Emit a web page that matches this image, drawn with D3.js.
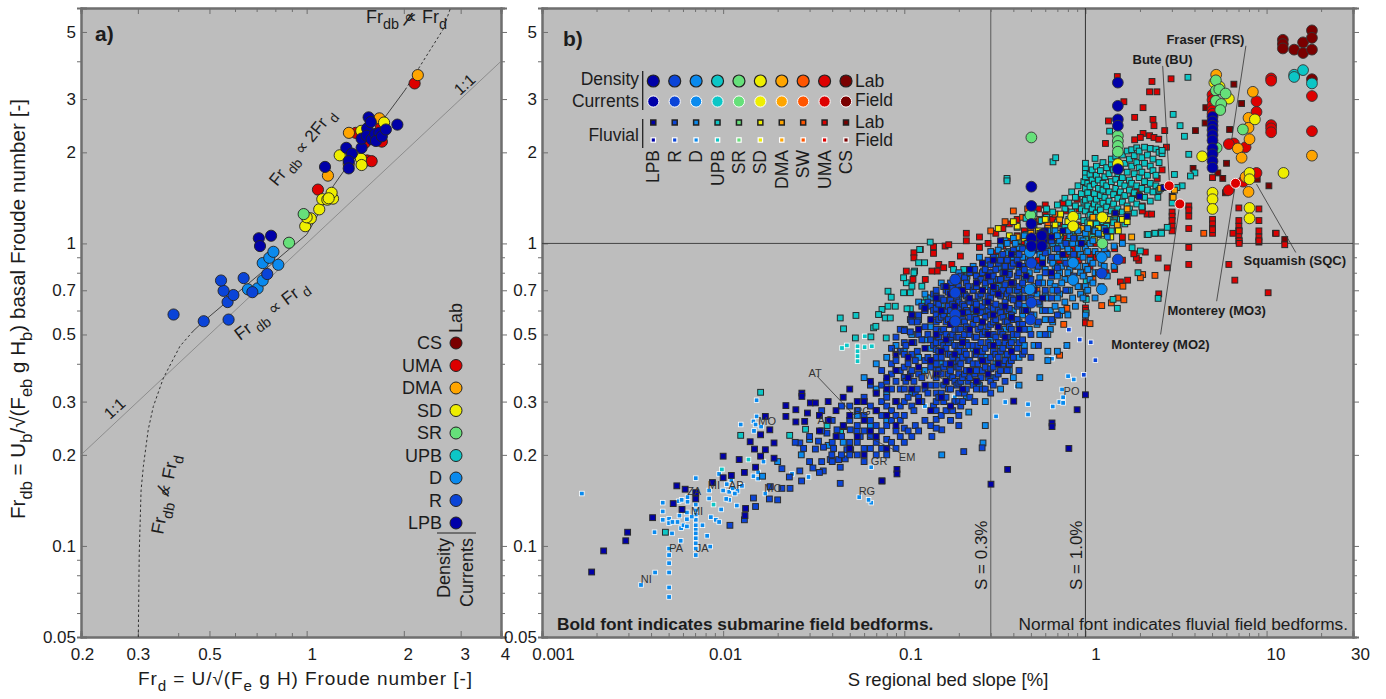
<!DOCTYPE html>
<html>
<head>
<meta charset="utf-8">
<script src="https://cdn.jsdelivr.net/npm/d3@7"></script>
<style>
  body { margin: 0; background: #fff; }
  text { font-family: "Liberation Sans", Arial, sans-serif; fill: #1c1c1c; }
</style>
</head>
<body>
<svg id="chart" width="1386" height="699"></svg>
<script>
const classNames = ["LPB", "R", "D", "UPB", "SR", "SD", "DMA", "SW", "UMA", "CS"];
const classColors = ["#0000a8", "#0a44d8", "#0a8aee", "#0cc6c6", "#66e07a", "#eeee00", "#ffa500", "#ff5500", "#dd0000", "#7a0000"];
const legendANames = ["CS", "UMA", "DMA", "SD", "SR", "UPB", "D", "R", "LPB"];

// tick values
const xTicksA = [0.2, 0.3, 0.5, 1, 2, 3, 4];
const xMinorA = [0.4, 0.6, 0.7, 0.8, 0.9];
const yTicks = [0.05, 0.1, 0.2, 0.3, 0.5, 0.7, 1, 2, 3, 5];
const yMinor = [0.06, 0.07, 0.08, 0.09, 0.4, 0.6, 0.8, 0.9, 4];
const xTicksB = [0.001, 0.01, 0.1, 1, 10, 30];
const xMinorB = [0.002, 0.003, 0.004, 0.005, 0.006, 0.007, 0.008, 0.009, 0.02, 0.03, 0.04, 0.05, 0.06, 0.07, 0.08, 0.09, 0.2, 0.3, 0.4, 0.5, 0.6, 0.7, 0.8, 0.9, 2, 3, 4, 5, 6, 7, 8, 9, 20];

// panel a, [Frd, Frdb]
const aLPB = [[.711,1.04],[.776,1.06],[.717,.98],[1.14,1.79],[1.327,2.07],[1.38,1.98],[1.35,1.87],[1.35,1.77],[1.48,2.07],[1.48,2.22],[1.54,2.4],[1.556,2.61],[1.58,2.52],[1.535,2.27],[1.59,2.21],[1.63,2.3],[1.68,2.32],[1.64,2.18],[1.71,2.26],[1.76,2.38],[1.91,2.47]];
const aR = [[.387,.582],[.48,.553],[.573,.56],[.569,.64],[.593,.675],[.553,.697],[.543,.754],[.638,.768],[.679,.69],[.755,.792]];
const aD = [[.658,.705],[.705,.71],[.731,.754],[.731,.861],[.766,.896],[.789,.938],[.817,.85]];
const aSR = [[.882,1.005],[.979,1.25]];
const aSD = [[.99,1.14],[1.03,1.21],[1.0,1.22],[1.094,1.296],[1.118,1.4],[1.159,1.395],[1.207,1.406],[1.195,1.47],[1.17,1.41],[1.266,1.955],[1.473,1.906],[1.48,1.816],[1.476,2.355],[1.737,2.51]];
const aDMA = [[1.164,1.675],[1.352,2.32],[1.68,2.59],[2.21,3.6],[1.35,1.83]];
const aUMA = [[1.084,1.506],[2.16,3.38],[1.54,1.88],[1.59,1.87],[1.42,2.32],[1.71,2.17],[1.515,2.15],[1.7,2.42]];

// reference lines in panel a
const oneToOne = [[0.2, 0.2], [4, 4]];
const curveLow = [[.301,.05],[.303,.0946],[.307,.153],[.312,.183],[.323,.242],[.335,.289],[.36,.359],[.405,.457],[.445,.513]];
const curveMid = [[.445,.513],[.48,.553],[1.0,1.07],[1.05,1.17],[1.21,1.55],[1.36,1.85],[1.61,2.32],[2.02,3.22]];
const curveTop = [[2.02,3.22],[2.65,5.11],[2.79,6.0]];

// panel b density currents, [S, Fr...] per row
const bCS = [[12.3,4.71,4.56,4.41],[14.2,4.37],[15.9,4.62,4.26],[17.8,5.06,4.78,4.37,3.49]];
const bUPB = [[14.2,3.61,3.55],[15.9,3.74],[17.8,3.38]];
const bUMA = [[10.6,3.51,3.45,2.46,2.4,2.33],[17.8,3.07,2.35],[8.8,2.95,2.72,1.71],[6.6,2.14],[7.66,2.08],[6.19,2.13],[7.43,1.6],[6.17,1.5],[5.03,3.1,2.98,2.85,2.75,2.68]];
const bUMAField = [[6.74,1.58],[3.32,1.35],[2.9,1.55]];
const bDMA = [[8.4,3.17],[17.8,1.95],[7.95,2.6,2.41,1.48],[8.05,2.21],[6.94,2.06],[7.28,1.92],[7.66,1.66],[5.27,3.61]];
const bSD = [[4.41,1.94],[12.4,1.71],[8.62,2.57],[8.05,1.71,1.63,1.31,1.21],[5.03,1.47,1.4,1.3],[6.19,3.01],[1.24,1.22],[.855,1.225,1.14],[1.51,1.83],[5.5,3.3],[5.15,3.4]];
const bSR = [[.503,2.24],[5.25,3.46,3.2,2.96],[5.48,3.23],[5.94,3.13],[5.62,2.89],[5.55,2.76],[7.4,2.38],[1.51,2.27,2.18,2.1,2.01],[.497,1.24],[1.24,1.0],[5.3,2.07]];
const bLPB = [[.503,1.54,1.33,1.16,1.04],[.576,1.07,1.02],[1.51,3.4,2.85,2.57,2.45,1.76],[5.03,2.62,2.53,2.45,2.37,2.28,2.19,2.06,1.97,1.87,1.78],[.574,1.06,.98],[.503,.98]];
const bR = [[.191,.76,.687,.582,.553],[.503,.861,.637],[.497,.56],[1.51,.885],[1.23,.796]];
const bD = [[.493,.936,.705],[.855,.863,.757],[1.23,.9,.705]];

// panel b fluvial field, [S, Fr...] per row
const fieldD = [[.00166,.149],[.00352,.0743],[.00421,.0817],[.00503,.0678,.0729,.0817,.0877,.0933,.098,.123,.119],[.00583,.104],[.00706,.137,.131,.127,.122,.117,.113,.11,.106,.102,.098,.0933,.1675],[.00848,.0995],[.00816,.108],[.00769,.117],[.00418,.111],[.00522,.11],[.00464,.139,.13,.122],[.00525,.12],[.0056,.12],[.00586,.1145],[.00604,.117],[.00631,.116,.1225,.129],[.00671,.125],[.00574,.126],[.00568,.1405],[.0059,.142],[.00636,.14,.145],[.00837,.1525,.1435],[.00855,.1245],[.00912,.122],[.0095,.12,.173],[.00975,.132],[.01,.1525],[.01047,.16],[.0108,.151,.142],[.0104,.143],[.0113,.155],[.012,.152],[.0116,.149],[.0127,.158],[.0119,.136],[.0111,.165],[.0147,.17,.258],[.0156,.175,.167],[.0167,.19],[.024,.173],[.0296,.169],[.0171,.149],[.0151,.252],[.0162,.248],[.0148,.24],[.0125,.252],[.0153,.268,.303],[.0657,.182,.139],[.0564,.145],[.0635,.142],[.419,.337],[.361,.299],[.321,.268],[.482,.294,.272],[.66,.289],[.718,.299],[.753,.297,.31],[.743,.329],[.802,.364],[.862,.355],[.654,.416],[.21,.345],[.24,.38],[.13,.29],[.16,.34],[.19,.31],[.26,.47]];
const fieldUPB = [[.0453,.451],[.0482,.46],[.0552,.457,.44,.424,.408],[.0604,.454],[.0662,.457],[.0606,.493],[.0161,.322],[.0138,.193],[.00984,.179],[.00885,.137]];
const fieldR = [[.93,.481],[1.07,.471],[1.135,.411],[.81,.519],[.776,.455],[.98,.368]];

// panel b fluvial lab
const labCS = [[6.6,3.36],[7.28,2.9],[4.62,2.81],[4.58,2.5],[4.05,2.36],[6.25,2.38],[6.01,1.84],[3.93,1.77],[5.38,1.71],[5.73,1.64],[5.93,1.47],[10.3,1.55],[8.88,1.63],[9.07,1.01],[12.6,1.03]];
const labUMA = [[1.5,3.56],[2.33,3.43],[2.97,3.5],[2.26,3.17,2.27],[2.48,3.17],[1.63,2.94],[2.08,2.81,2.31],[1.34,2.54],[1.87,2.61,2.2],[2.36,2.57],[2.74,2.36],[1.29,2.14],[2.01,2.24],[2.39,2.45,2.24],[2.54,2.21],[2.8,2.08],[2.49,1.64],[2.65,1.75],[3.01,1.43,1.27,1.23,1.19,1.14,1.1],[3.72,1.33,1.29,1.23,1.12,.97,.852],[5.03,1.65,1.2,1.16,1.12,1.08,1.11],[7.03,1.31,1.19,1.14,1.1,1.06,1.02],[9.07,1.3,1.19,1.1,1.05,1.02],[11.2,1.08],[6.52,1.08],[2.19,1.25],[2.32,1.25],[2.06,1.33,1.28],[1.93,1.49],[1.83,1.45],[7.06,1.1,1.02,1.0],[12.6,.99],[11.3,1.08],[6.19,.852],[6.68,.756],[10.2,.687],[2.83,.83],[2.52,.894],[2.54,.681],[1.97,.879],[1.91,.895],[1.85,.924],[2.14,.936],[1.71,.756],[1.56,.746],[1.0,.66,.612,.6,.551,.546],[.113,.931,.896],[.1226,.955],[.145,.975,.927],[.168,.98],[.176,.99],[.155,.852],[.165,.831],[.152,.81],[.183,.852],[.204,.908],[.1026,.81],[.1117,.76],[.142,.81],[.1306,.76],[.22,1.02,1.08],[.26,.97,1.05],[.29,1.0],[.32,.93,1.08],[.35,.98,1.12],[.38,1.02,1.16],[.42,.95,1.06,1.2],[.46,.9,1.0,1.1],[.5,.96,1.06,1.14],[.55,.88,1.02,1.18,1.3],[.6,.94,1.08,1.24],[.66,.9,1.0,1.12,1.2],[.72,.86,.98,1.16],[.78,.92,1.04,1.28],[.85,.84,.96,1.1,1.22],[.92,.88,1.0,1.15,1.3],[1.06,.84,.92,1.06],[1.15,.9,1.0,1.2],[1.3,.8,.93,1.08],[1.45,.82,.96],[1.6,.88,1.05],[.75,1.36],[.9,1.4],[.6,1.34]];
const labSW = [[1.51,.66],[1.63,.651],[1.39,.636],[1.23,.623],[2.07,.789],[2.01,.77],[2.42,.784],[1.61,.722],[1.06,.543],[.759,.54],[.79,.61],[.72,.427],[.92,.72],[.98,.8],[1.1,.76],[.82,.84],[.62,.95],[.7,1.02],[.5,1.1],[.56,1.2],[.45,1.22],[.62,1.15],[.4,1.28],[.36,1.18],[.48,1.3],[.68,1.25],[.9,.92],[.3,1.1],[4.5,1.08],[.54,.7]];
const labDMA = [[3.1,1.5],[3.05,1.42],[2.6,1.52],[1.1,1.22],[1.3,1.2],[1.5,1.15],[.95,1.12],[.8,1.1],[.62,1.12],[.72,1.2],[.5,1.08],[1.7,1.3],[.42,1.05],[1.8,1.05]];
const labSD = [[.33,1.12],[.38,1.06],[.42,1.14],[.46,1.04],[.5,1.18],[.55,1.1],[.58,1.0],[.6,1.2],[.64,1.06],[.68,1.15],[.72,1.08],[.76,1.0],[.8,1.18],[.86,1.05],[.9,1.13],[.95,1.0],[1.02,1.08],[1.06,1.16],[1.12,1.03],[1.18,1.12],[1.25,1.08],[1.32,1.2],[1.38,1.05],[1.45,1.25],[1.52,1.1],[1.6,1.2],[1.7,1.18],[.4,1.18],[.52,1.03],[.73,1.25]];
const labUPB = [[.139,1.01],[.1216,.955],[.12,.863],[.1295,.863],[.114,.81],[.1026,.741],[.0991,.77,.687],[.113,.8],[.1102,.722],[.125,.722],[.108,.687,.608],[.132,.661],[.129,.636],[.0813,.695,.62],[.0847,.664],[.0892,.62],[.0753,.605],[.0721,.582],[.0785,.567],[.0837,.567],[.1035,.608],[.0443,.567],[.0462,.522],[.0541,.578],[.0677,.526],[.0697,.532],[.0654,.491],[.0795,.487],[.0537,.487],[.187,.82],[.213,.82],[.2415,.81],[.274,.81],[.222,.78],[.0161,.322],[.0125,.232],[.0233,.232],[.0285,.243],[.0375,.25],[.0445,.24],[.0048,.111],[.36,1.0],[.4,.92],[.44,.97],
  [.369,1.64,1.61],[.662,1.86],[.685,1.92],[1.13,1.91],[1.36,2.35],[3.68,3.54],[3.05,2.67],[3.33,2.45],[3.52,2.26],[3.72,1.97],[4.02,1.71],[3.8,1.67],[3.1,1.69],[3.42,1.55],[3.2,1.53],[2.51,1.49,1.42],[3.01,1.36],[2.83,1.13],[2.62,1.09],[2.41,1.08],[2.19,1.07],[2.52,.658],[1.42,.653],[1.5,.61],[1.01,.653,.589,.7,.75],[1.95,.8],[2.01,.944],[1.81,.968],[2.22,1.07],[2.42,1.08],[2.63,1.08],
  [.42,1.02,1.13],[.47,1.07,1.21],[.52,1.0,1.15,1.26],[.57,1.09,1.19],[.61,1.03,1.22,1.3],[.66,1.11,1.27],[.7,1.0,1.17,1.34],[.73,1.06,1.24],[.77,1.13,1.3,1.41],[.81,1.02,1.2,1.36],[.84,1.09,1.27,1.48],[.88,1.15,1.33,1.42],[.91,1.04,1.23,1.55],[.95,1.11,1.3,1.46],[.98,1.19,1.37,1.6],[1.0,1.03,1.28,1.39,1.52,1.66,1.72,1.78,1.84],[1.03,1.08,1.17,1.33,1.47,1.58],[1.06,1.13,1.24,1.41,1.54,1.69],[1.09,1.05,1.2,1.3,1.62,1.75],[1.12,1.1,1.35,1.46,1.57],[1.15,1.16,1.26,1.4,1.68,1.8],[1.18,1.07,1.22,1.32,1.52,1.62],[1.21,1.12,1.29,1.44,1.74],[1.25,1.18,1.36,1.5,1.58,1.85],[1.28,1.08,1.24,1.42,1.66],[1.31,1.14,1.32,1.55,1.78],[1.35,1.2,1.38,1.48,1.7],[1.39,1.1,1.28,1.6,1.83,1.9],[1.43,1.17,1.35,1.45,1.75],[1.47,1.23,1.52,1.63,1.94],[1.51,1.13,1.3,1.41,1.7,1.86],[1.56,1.2,1.48,1.58,1.78],[1.6,1.27,1.37,1.65,1.96],[1.65,1.16,1.44,1.55,1.84],[1.7,1.23,1.33,1.72,2.02],[1.75,1.3,1.5,1.62,1.9],[1.8,1.4,1.58,1.8,2.04],[1.86,1.26,1.47,1.7,1.95],[1.92,1.35,1.55,1.85,2.07],[1.98,1.44,1.65,1.78,2.02],[2.05,1.32,1.52,1.72,1.92],[2.12,1.42,1.6,1.84,2.08],[2.2,1.5,1.68,1.96],[2.28,1.38,1.58,1.8,2.06],[2.36,1.48,1.74,1.9],[2.45,1.55,1.68,2.05],[2.55,1.5,1.85,2.0],[2.65,1.98,2.03]];
const labD = [[.161,.2],[.227,.277],[.28,.25],[.272,.219],[.0165,.17],[.02,.19],[.027,.2],[.03,.225],[.038,.215],[.046,.22],[.055,.27],[.06,.3,.36],[.065,.25],[.07,.28,.33,.4],[.08,.26,.32,.42],[.09,.3,.38,.46],[.1,.36,.44,.52],[.11,.32,.5,.58],[.12,.42,.56,.64],[.13,.38,.48,.6,.68],[.14,.45,.53,.66],[.16,.4,.52,.62,.74],[.18,.36,.47,.58,.7],[.2,.42,.55,.66,.8],[.22,.31,.5,.6,.76],[.24,.37,.45,.58,.7,.84],[.26,.34,.52,.66,.78,.9],[.28,.3,.42,.6,.72,.86],[.3,.36,.48,.68,.8,.94],[.32,.4,.55,.76,.9],[.34,.33,.46,.62,.72,.84,.98],[.36,.43,.52,.7,.88,1.02],[.38,.38,.58,.66,.8,.94],[.4,.36,.48,.6,.74,.9,1.04],[.43,.42,.55,.68,.82,.97],[.46,.46,.62,.76,.9,1.06],[.49,.52,.66,.8,.94],[.52,.46,.58,.72,.86,1.0],[.56,.5,.63,.77,.92,1.08],[.6,.56,.68,.82,.98],[.64,.52,.6,.74,.88,1.04],[.68,.62,.72,.84,.96,1.1],[.72,.58,.68,.8,.92,1.02],[.77,.64,.76,.88,1.0],[.82,.7,.82,.94,1.06],[.88,.62,.74,.86,1.0,1.12],[.94,.68,.8,.92,1.04],[1.0,.58,.72,.84,.97,1.08],[1.06,.76,.88,1.0],[1.13,.66,.8,.94,1.1],[1.22,.72,.86,1.0],[1.32,.78,.92,1.05],[1.44,.84,.98],[1.6,1.0],[.43,.34],[.56,.36],[.62,.41,.44],[.7,.44],[.79,.46],
  [.33,.72,.83,.95],[.37,.93,1.0],[.41,.7,.86,1.0],[.45,.58,.73,.9],[.48,.6,.7,.86,1.0],[.54,.54,.68,.82,.96],[.58,.6,.74,.9,1.04],[.62,.5,.66,.8,.94,1.1],[.66,.55,.7,.86,1.0],[.7,.66,.78,.9,1.06],[.74,.6,.74,.84,.98],[.8,.58,.7,.8,.96,1.1],[.85,.66,.76,.9,1.0],[.91,.72,.84,.96,1.1],[.97,.66,.78,.9,1.02],[1.03,.7,.82,.94,1.12],[1.1,.74,.86,1.02],[1.18,.8,.92,1.08],[1.27,.84,.96,1.12]];
const labR = [[.0147,.144],[.0151,.135],[.0131,.122],[.0109,.117],[.018,.143],[.02,.142],[.0182,.157],[.0211,.155,.18],[.0234,.155],[.0232,.169],[.0271,.164],[.0265,.177,.219],[.0313,.181],[.0357,.177],[.034,.175],[.0443,.182,.161],[.039,.193],[.0434,.193],[.0472,.194],[.0358,.212],[.0407,.21],[.0398,.2],[.0323,.209],[.0278,.21],[.025,.22],[.0336,.222],[.0374,.236],[.0425,.242],[.0462,.248],[.0503,.242],[.0548,.24],[.0571,.23],[.0649,.23],[.0482,.208],[.0506,.208],[.0753,.164],[.213,.205],[.269,.211],[.161,.242],[.142,.23],
  [.03,.19,.23],[.035,.19,.24,.28],[.04,.19,.22,.26],[.045,.2,.23,.29],
  [.05,.2,.22,.26,.29],[.055,.2,.22,.25,.28],[.06,.19,.21,.24,.27,.31],[.065,.21,.23,.26,.29,.34],[.07,.2,.22,.25,.28,.32],[.075,.21,.24,.27,.3,.34,.38],[.08,.2,.225,.25,.29,.31,.35],[.085,.22,.26,.28,.33,.37,.4,.45],[.09,.21,.24,.27,.3,.35,.41,.49],[.095,.23,.26,.29,.33,.38,.44,.52],
  [.1,.22,.245,.27,.3,.33,.36,.39,.43,.47,.515],[.102,.35,.46],[.105,.24,.31,.4],[.108,.37,.51,.56],[.11,.23,.29,.38,.43,.55],[.113,.28,.35,.47],[.115,.25,.32,.41],[.118,.33,.44,.55],[.12,.24,.31,.37,.5,.58],[.125,.3,.36,.48,.62],[.13,.26,.33,.41,.53,.6],[.135,.32,.42,.5,.64],[.14,.25,.34,.39,.48,.62],[.145,.29,.41,.46,.6,.68],
  [.15,.245,.262,.28,.3,.32,.34,.36,.38,.4,.42,.445,.47,.495,.52,.55,.58,.61,.64,.67,.7],[.155,.31,.38,.44,.49,.56,.63],[.16,.27,.32,.37,.42,.47,.51,.57,.66],[.165,.3,.34,.39,.46,.52,.58,.65,.72],[.17,.28,.31,.35,.4,.45,.5,.55,.6,.7],[.175,.33,.37,.43,.47,.56,.62,.69],[.18,.26,.33,.38,.43,.49,.54,.6,.65,.74],[.185,.28,.36,.42,.5,.55,.63,.71],[.19,.3,.35,.4,.46,.52,.57,.68],[.195,.34,.39,.44,.49,.6,.66,.74],
  [.2,.25,.27,.3,.32,.345,.37,.39,.41,.44,.46,.49,.52,.55,.58,.61,.64,.68,.72,.76],[.205,.29,.35,.4,.46,.52,.58,.7,.78],[.21,.3,.36,.42,.48,.56,.63],[.215,.32,.37,.44,.5,.55,.62,.68,.77],[.22,.33,.38,.43,.47,.53,.6,.67,.74],[.225,.35,.41,.46,.52,.59,.65,.72],[.23,.31,.36,.41,.5,.57,.64,.8],[.24,.34,.4,.46,.54,.61,.7],[.245,.3,.37,.43,.49,.57,.64,.72,.82],[.25,.33,.38,.43,.49,.56,.63,.72,.78],[.255,.35,.4,.46,.52,.6,.67,.75],[.265,.36,.42,.47,.53,.59,.68,.76],[.27,.33,.38,.44,.5,.55,.62,.7,.8],[.28,.33,.39,.45,.51,.57,.64,.74,.82],[.29,.36,.41,.47,.53,.6,.67,.77,.88],
  [.3,.32,.35,.385,.42,.46,.5,.54,.58,.62,.66,.7,.75,.8,.85],[.31,.34,.39,.44,.5,.55,.61,.69,.78,.9],[.32,.36,.43,.49,.56,.63,.71,.82],[.33,.37,.42,.47,.53,.6,.68,.76,.86],[.34,.38,.44,.51,.59,.67,.76,.88],[.35,.4,.45,.5,.57,.62,.7,.8,.92],[.36,.35,.41,.47,.55,.64,.73,.84],[.37,.38,.43,.49,.55,.6,.68,.77,.88],[.38,.4,.46,.53,.61,.7,.79],[.39,.41,.47,.52,.58,.66,.74,.84],[.4,.42,.5,.56,.65,.74,.86,.95],[.42,.45,.5,.56,.62,.7,.78,.88],[.43,.38,.47,.54,.63,.72,.8,.92],[.45,.43,.48,.54,.6,.66,.74,.84,.96],[.46,.44,.52,.6,.7,.82],[.5,.42,.5,.58,.66,.76,.88,1.0],[.55,.46,.55,.64,.74,.84],[.6,.5,.6,.7,.8,.93],[.65,.56,.66,.78,.9,1.02],[.7,.58,.7,.83,.96],[.78,.7,.86,1.0],[.86,.78,.92,1.04]];
const labLPB = [[.00188,.082],[.00219,.0963],[.0029,.104],[.00297,.111],[.00408,.124],[.0053,.138],[.00555,.158],[.00617,.154],[.00706,.143,.15],[.00593,.132],[.00873,.162],[.01,.168,.198],[.0111,.171],[.0131,.175],[.0151,.182],[.0141,.221],[.0149,.209],[.0161,.233,.198],[.0171,.268,.208],[.0181,.242],[.01226,.193],[.0191,.219,.195],[.0222,.291,.268],[.0252,.282,.257],[.0272,.32,.312],[.0303,.297],[.0323,.297],[.0292,.275],[.0282,.258],[.0133,.133],[.0132,.126],[.0753,.164],[.0911,.179,.173],[.301,.16],[.372,.179],[.402,.301],[.654,.255,.248],[.81,.21],[.9,.282],[1.0,.316],
  [.034,.27,.24],[.038,.26,.3],[.042,.23,.28],[.046,.25,.31],[.05,.21,.27,.33],[.055,.23,.3],[.06,.2,.26,.3],[.065,.24,.35],[.07,.23,.28,.32],[.08,.21,.27,.33,.36],[.09,.25,.3,.38,.43],[.105,.36,.42],[.11,.33,.47,.58],[.12,.3,.39,.52],[.13,.34,.45,.61],[.14,.28,.41,.56],[.15,.37,.5,.66],[.16,.31,.44,.6],[.17,.35,.48,.72],[.18,.29,.4,.54,.68],[.19,.43,.62,.77],[.21,.33,.47,.59,.7],[.23,.38,.52,.66,.82],[.25,.35,.44,.6,.74],[.27,.41,.55,.7,.86],[.29,.37,.5,.64,.78],[.31,.46,.58,.72,.88],[.33,.4,.53,.68],[.36,.49,.62,.8],[.39,.44,.57,.74,.92],[.43,.52,.66,.85],[.47,.6,.78],[.52,.7,.95],[.58,.66,.86,1.02],[.65,.8,1.05],[.75,.92,1.1],[.6,1.1],[1.3,1.1],[.95,1.0],[.34,1.02],[2.71,1.53],[1.99,1.43],[1.7,1.23],[1.46,1.26]];

// site tags in panel b, [name, S, Fr]
const siteNames = ["AT", "EM", "GR", "RG", "RG", "PO", "MO", "MO", "AC", "ZA", "MI", "AP", "MI", "PA", "JA", "NI", "HI", "WR"];
const siteS = [.0322, .1036, .0726, .0622, .0589, .838, .0175, .0189, .0366, .00692, .0089, .0118, .00718, .0055, .00766, .00376, .0914, .145];
const siteFr = [.372, .197, .191, .152, .278, .3236, .259, .1556, .261, .152, .159, .159, .1306, .0985, .0985, .0778, .4387, .368];

// bold basin names
const basinNames = ["Fraser (FRS)", "Bute (BU)", "Monterey (MO3)", "Monterey (MO2)", "Squamish (SQC)"];
const basinS = [2.8, 1.82, 2.84, 1.39, 7.46];
const basinFr = [4.56, 3.92, .578, .449, .846];
const leaderS = [[7.69, 6.38], [2.67, 2.91], [5.3, 6.74], [2.6, 3.32], [14.5, 8.8], [.033, .0537], [.0622, .095]];
const leaderFr = [[4.5, 2.15], [3.86, 1.57], [.644, 1.58], [.5, 1.35], [.933, 1.57], [.364, .268], [.23, .203]];

const svg = d3.select("#chart");
const frameColor = "#6f6f6f";
const plotColor = "#bdbdbd";

const rowsToPoints = (rows) => rows.flatMap(([s, ...frs]) => frs.map((fr) => [s, fr]));
const colorOf = (name) => classColors[classNames.indexOf(name)];

const xA = d3.scaleLog().domain([0.2, 4]).range([81, 501]);
const xB = d3.scaleLog().domain([0.001, 30]).range([542, 1353]);
const yScale = d3.scaleLog().domain([0.05, 6]).range([637, 8]);

function drawFrame(x, y, xTicks, xMinor, xShift) {
  const [x0, x1] = x.range();
  const [y0, y1] = y.range();
  svg.append("rect")
    .attr("x", x0).attr("y", y1)
    .attr("width", x1 - x0).attr("height", y0 - y1)
    .attr("fill", plotColor);

  function addAxis(axis, tx, ty, labels) {
    const g = svg.append("g").attr("transform", `translate(${tx},${ty})`).call(axis);
    g.selectAll("line").attr("stroke", frameColor);
    g.select(".domain").attr("stroke", frameColor).attr("stroke-width", 2);
    if (!labels) g.selectAll("text").remove();
    g.selectAll("text").style("font-size", "17px").attr("font-family", null);
    return g;
  }
  const plain = (d) => d;
  addAxis(d3.axisBottom(x).tickValues(xMinor).tickSize(-4).tickFormat(""), 0, y0, false);
  addAxis(d3.axisTop(x).tickValues(xMinor).tickSize(-4).tickFormat(""), 0, y1, false);
  addAxis(d3.axisTop(x).tickValues(xTicks).tickSize(-6).tickFormat(""), 0, y1, false);
  addAxis(d3.axisBottom(x).tickValues(xTicks).tickSize(-6).tickPadding(11).tickFormat(plain), 0, y0, true)
    .selectAll("text").attr("dx", (d, i) => xShift[i]);
  addAxis(d3.axisRight(y).tickValues(yMinor).tickSize(-4).tickFormat(""), x0, 0, false);
  addAxis(d3.axisLeft(y).tickValues(yMinor).tickSize(-4).tickFormat(""), x1, 0, false);
  addAxis(d3.axisLeft(y).tickValues(yTicks).tickSize(-6).tickFormat(""), x1, 0, false);
  addAxis(d3.axisLeft(y).tickValues(yTicks).tickSize(-6).tickPadding(5).tickFormat(plain), x0, 0, true);
}

// text with subscripts, parts are [string, isSub]
function richText(g, parts, size) {
  const t = g.append("text").style("font-size", size + "px");
  let down = false;
  parts.forEach(([str, sub]) => {
    const span = t.append("tspan").text(str);
    if (sub && !down) span.attr("dy", size * 0.32).style("font-size", size * 0.8 + "px");
    if (sub && down) span.style("font-size", size * 0.8 + "px");
    if (!sub && down) span.attr("dy", -size * 0.32);
    down = sub;
  });
  return t;
}

function placed(x, y, angle) {
  return svg.append("g").attr("transform", `translate(${x},${y}) rotate(${angle || 0})`);
}

function drawCircles(points, x, color, stroke, r) {
  svg.append("g").selectAll("circle")
    .data(points).join("circle")
    .attr("cx", (d) => x(d[0]))
    .attr("cy", (d) => yScale(d[1]))
    .attr("r", r)
    .attr("fill", color)
    .attr("stroke", stroke)
    .attr("stroke-width", 0.9);
}

function drawSquares(points, color, stroke, size, sw) {
  svg.append("g").selectAll("rect")
    .data(points).join("rect")
    .attr("x", (d) => xB(d[0]) - size / 2)
    .attr("y", (d) => yScale(d[1]) - size / 2)
    .attr("width", size)
    .attr("height", size)
    .attr("fill", color)
    .attr("stroke", stroke)
    .attr("stroke-width", sw);
}

/* ---------- panel a ---------- */
drawFrame(xA, yScale, xTicksA, xMinorA, [1, 0, 0, 5, 4, 4, 4]);

const lineA = d3.line().x((d) => xA(d[0])).y((d) => yScale(d[1]));
svg.append("path").attr("d", lineA(oneToOne)).attr("fill", "none").attr("stroke", "#808080").attr("stroke-width", 0.8);
svg.append("path").attr("d", lineA(curveLow)).attr("fill", "none").attr("stroke", "#333").attr("stroke-width", 1).attr("stroke-dasharray", "2.5,2.5");
svg.append("path").attr("d", lineA(curveMid)).attr("fill", "none").attr("stroke", "#444").attr("stroke-width", 1);
svg.append("path").attr("d", lineA(curveTop)).attr("fill", "none").attr("stroke", "#333").attr("stroke-width", 1).attr("stroke-dasharray", "2.5,2.5");

[[aUMA, "UMA"], [aDMA, "DMA"], [aSD, "SD"], [aSR, "SR"], [aD, "D"], [aR, "R"], [aLPB, "LPB"]].forEach(([pts, name]) => {
  drawCircles(pts, xA, colorOf(name), "#222", 5.6);
});

placed(95, 41).append("text").text("a)").style("font-size", "21px").style("font-weight", "bold");

const propTo = "\u221d";
richText(placed(366, 23), [["Fr", false], ["db", true], [" " + propTo + " ", false], ["Fr", false], ["d", true]], 18);
placed(403, 25, 20).append("text").text("/").style("font-size", "20px");
richText(placed(277, 187, -51), [["Fr", false], [" db", true], [" " + propTo + " 2Fr", false], [" d", true]], 17);
richText(placed(240, 341, -37), [["Fr", false], [" db", true], [" " + propTo + " Fr", false], [" d", true]], 17.5);
richText(placed(163, 535, -79), [["Fr", false], ["db", true], [" " + propTo + " ", false], ["Fr", false], ["d", true]], 18);
placed(168, 497, -60).append("text").text("/").style("font-size", "20px");
placed(460, 96, -42).append("text").text("1:1").style("font-size", "16px");
placed(110, 420, -42).append("text").text("1:1").style("font-size", "16px");

// legend of panel a
const legendY = d3.scalePoint().domain(legendANames).range([343, 523]);
legendANames.forEach((name) => {
  placed(442, legendY(name) + 6).append("text").text(name)
    .attr("text-anchor", "end").style("font-size", "18px");
});
svg.append("g").selectAll("circle")
  .data(legendANames).join("circle")
  .attr("cx", 456)
  .attr("cy", (d) => legendY(d))
  .attr("r", 6)
  .attr("fill", (d) => colorOf(d))
  .attr("stroke", "#222")
  .attr("stroke-width", 1);
svg.append("line").attr("x1", 437).attr("x2", 476).attr("y1", 533).attr("y2", 533).attr("stroke", "#222");
placed(450, 598, -90).append("text").text("Density").style("font-size", "18px");
placed(473, 607, -90).append("text").text("Currents").style("font-size", "18px");
placed(462, 333, -90).append("text").text("Lab").style("font-size", "18px");

// axis titles of panel a
placed(138, 685).call((g) => {
  richText(g, [["Fr", false], ["d", true], [" = U/\u221a(F", false], ["e", true], [" g H) Froude number [-]", false]], 19)
    .attr("textLength", 334).attr("lengthAdjust", "spacing");
});
placed(25, 519, -90).call((g) => {
  richText(g, [["Fr", false], ["db", true], [" = U", false], ["b", true], ["/\u221a(F", false], ["eb", true], [" g H", false], ["b", true], [") basal Froude number [-]", false]], 20.5)
    .attr("textLength", 420).attr("lengthAdjust", "spacing");
});

/* ---------- panel b ---------- */
drawFrame(xB, yScale, xTicksB, xMinorB, [11, 2, 6, 10, 9, 7]);

// reference lines of panel b
const [xB0, xB1] = xB.range();
svg.append("line").attr("x1", xB0).attr("x2", xB1).attr("y1", yScale(1)).attr("y2", yScale(1)).attr("stroke", "#444").attr("stroke-width", 1);
svg.append("line").attr("x1", xB(0.3)).attr("x2", xB(0.3)).attr("y1", 8).attr("y2", 637).attr("stroke", "#707070").attr("stroke-width", 1.3);
svg.append("line").attr("x1", xB(1)).attr("x2", xB(1)).attr("y1", 8).attr("y2", 637).attr("stroke", "#333").attr("stroke-width", 1);

// fluvial squares, back to front
drawSquares(rowsToPoints(fieldD), colorOf("D"), "#fff", 4.6, 0.8);
drawSquares(rowsToPoints(fieldUPB), colorOf("UPB"), "#fff", 4.6, 0.8);
drawSquares(rowsToPoints(fieldR), colorOf("R"), "#fff", 4.6, 0.8);
const labLayers = [[labCS, "CS"], [labUMA, "UMA"], [labSW, "SW"], [labUPB, "UPB"], [labDMA, "DMA"], [labSD, "SD"], [labD, "D"], [labR, "R"], [labLPB, "LPB"]];
labLayers.forEach(([rows, name]) => {
  drawSquares(rowsToPoints(rows), colorOf(name), "#2a2a2a", 5.8, 1);
});

// leader lines
leaderS.forEach((s, i) => {
  svg.append("line")
    .attr("x1", xB(s[0])).attr("y1", yScale(leaderFr[i][0]))
    .attr("x2", xB(s[1])).attr("y2", yScale(leaderFr[i][1]))
    .attr("stroke", "#333").attr("stroke-width", 0.8);
});

// density current circles
[[bCS, "CS"], [bUPB, "UPB"], [bUMA, "UMA"], [bDMA, "DMA"], [bSD, "SD"], [bSR, "SR"], [bD, "D"], [bR, "R"], [bLPB, "LPB"]].forEach(([rows, name]) => {
  drawCircles(rowsToPoints(rows), xB, colorOf(name), "#333", 5.4);
});
drawCircles(rowsToPoints(bUMAField), xB, colorOf("UMA"), "#fff", 5);

// site tags and basin names
siteNames.forEach((name, i) => {
  svg.append("text").text(name)
    .attr("x", xB(siteS[i])).attr("y", yScale(siteFr[i]))
    .attr("dy", "0.35em")
    .attr("text-anchor", "middle")
    .style("fill", "#333")
    .style("font-size", "11px");
});
basinNames.forEach((name, i) => {
  svg.append("text").text(name)
    .attr("x", xB(basinS[i])).attr("y", yScale(basinFr[i]))
    .style("font-size", "13px").style("font-weight", "bold");
});

placed(563, 46).append("text").text("b)").style("font-size", "21px").style("font-weight", "bold");
placed(557, 630).append("text").text("Bold font indicates submarine field bedforms.").style("font-size", "17.3px").style("font-weight", "bold");
placed(1348, 630).append("text").text("Normal font indicates fluvial field bedforms.").attr("text-anchor", "end").style("font-size", "17.3px");
placed(987, 590, -90).append("text").text("S = 0.3%").style("font-size", "17px");
placed(1082, 590, -90).append("text").text("S = 1.0%").style("font-size", "17px");

// legend of panel b
const legendX = d3.scalePoint().domain(classNames).range([653.3, 846]);
svg.append("g").selectAll("circle").data(classNames).join("circle")
  .attr("cx", (d) => legendX(d)).attr("cy", 81).attr("r", 6)
  .attr("fill", (d) => colorOf(d)).attr("stroke", "#222").attr("stroke-width", 1.2);
svg.append("g").selectAll("circle").data(classNames).join("circle")
  .attr("cx", (d) => legendX(d)).attr("cy", 101.5).attr("r", 5.6)
  .attr("fill", (d) => colorOf(d)).attr("stroke", "#fff").attr("stroke-width", 1);
svg.append("g").selectAll("rect").data(classNames).join("rect")
  .attr("x", (d) => legendX(d) - 2.5).attr("y", 120).attr("width", 5).attr("height", 5)
  .attr("fill", (d) => colorOf(d)).attr("stroke", "#222").attr("stroke-width", 1.5);
svg.append("g").selectAll("rect").data(classNames).join("rect")
  .attr("x", (d) => legendX(d) - 2.2).attr("y", 137.8).attr("width", 4.4).attr("height", 4.4)
  .attr("fill", (d) => colorOf(d)).attr("stroke", "#fff").attr("stroke-width", 1.2);
classNames.forEach((name) => {
  placed(legendX(name) + 6, 150, -90).append("text").text(name)
    .attr("text-anchor", "end").style("font-size", "17.5px");
});
const sideLabels = [["Density", 639, 85, "end"], ["Currents", 639, 107, "end"], ["Fluvial", 639, 141, "end"], ["Lab", 855, 87, "start"], ["Field", 855, 106, "start"], ["Lab", 855, 128, "start"], ["Field", 855, 146, "start"]];
sideLabels.forEach(([label, px, py, anchor]) => {
  placed(px, py).append("text").text(label).attr("text-anchor", anchor).style("font-size", "17.5px");
});
svg.append("line").attr("x1", 642.7).attr("x2", 642.7).attr("y1", 71).attr("y2", 110).attr("stroke", "#222").attr("stroke-width", 1.3);
svg.append("line").attr("x1", 642.7).attr("x2", 642.7).attr("y1", 119).attr("y2", 148).attr("stroke", "#222").attr("stroke-width", 1.3);

placed(948, 686).append("text").text("S regional bed slope [%]").attr("text-anchor", "middle").style("font-size", "18.5px");
</script>
</body>
</html>
